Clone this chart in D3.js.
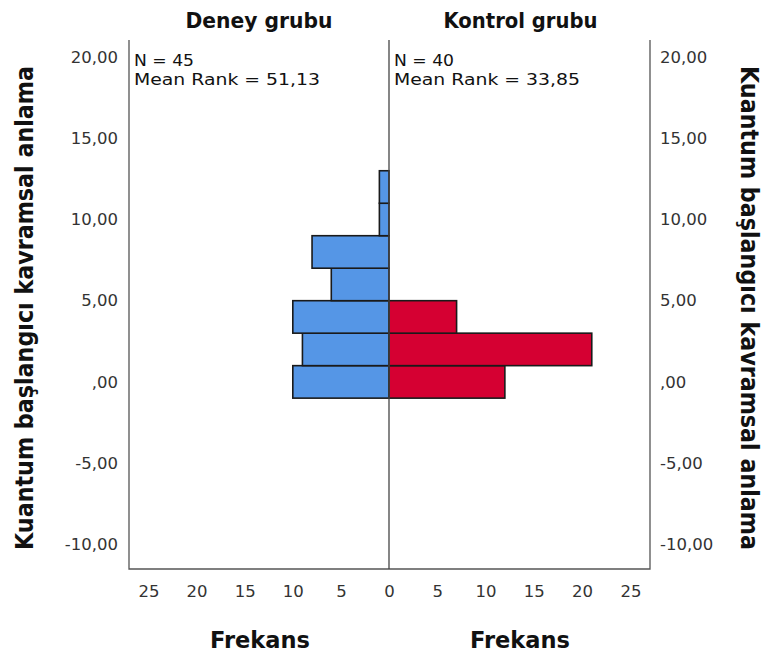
<!DOCTYPE html>
<html>
<head>
<meta charset="utf-8">
<script src="https://cdn.jsdelivr.net/npm/d3@7"></script>
<style>
  body { margin: 0; background: #fff; }
  svg { display: block; }
</style>
</head>
<body>
<svg id="chart" width="765" height="659"></svg>
<script>
// Bin midpoints (width 2) and frequencies for each group
const binCenters = [0, 2, 4, 6, 8, 10, 12];
const binWidth = 2;
const deneyCounts = [10, 9, 10, 6, 8, 1, 1];
const kontrolCounts = [12, 21, 7, 0, 0, 0, 0];

const groupNames = ["Deney grubu", "Kontrol grubu"];
const groupN = [45, 40];
const meanRanks = ["51,13", "33,85"];

const yTicks = [-10, -5, 0, 5, 10, 15, 20];
const xTicks = [0, 5, 10, 15, 20, 25];

const yTitle = "Kuantum başlangıcı kavramsal anlama";
const xTitle = "Frekans";

(function draw() {
  const svg = d3.select("#chart");

  const pLeft = 129, pMid = 389, pRight = 650, pTop = 40, pBottom = 569;

  const y = d3.scaleLinear().domain([-11.52, 21.05]).range([pBottom, pTop]);
  const xL = d3.scaleLinear().domain([0, 27.03]).range([pMid, pLeft]);
  const xR = d3.scaleLinear().domain([0, 27.03]).range([pMid, pRight]);

  // "5,00", ",00", "-5,00" with a plain hyphen for negatives
  const fmtY = v => {
    const s = Math.abs(v).toFixed(2).replace(".", ",").replace(/^0,/, ",");
    return (v < 0 ? "-" : "") + s;
  };

  const tickFont = "DejaVu Sans, sans-serif";
  const boldFont = "DejaVu Sans, sans-serif";

  // Bars
  const deney = binCenters.map((c, i) => ({ c, v: deneyCounts[i] })).filter(d => d.v > 0);
  const kontrol = binCenters.map((c, i) => ({ c, v: kontrolCounts[i] })).filter(d => d.v > 0);

  svg.append("g").selectAll("rect").data(deney).join("rect")
    .attr("x", d => xL(d.v))
    .attr("y", d => y(d.c + binWidth / 2))
    .attr("width", d => pMid - xL(d.v))
    .attr("height", d => y(d.c - binWidth / 2) - y(d.c + binWidth / 2))
    .attr("fill", "#5596e6")
    .attr("stroke", "#1a1a1a")
    .attr("stroke-width", 1.6);

  svg.append("g").selectAll("rect").data(kontrol).join("rect")
    .attr("x", pMid)
    .attr("y", d => y(d.c + binWidth / 2))
    .attr("width", d => xR(d.v) - pMid)
    .attr("height", d => y(d.c - binWidth / 2) - y(d.c + binWidth / 2))
    .attr("fill", "#d50032")
    .attr("stroke", "#1a1a1a")
    .attr("stroke-width", 1.6);

  // Frame: left, right, bottom edges and the centre line
  const frame = svg.append("g").attr("stroke", "#555").attr("stroke-width", 1.3).attr("fill", "none");
  frame.append("path").attr("d", `M${pLeft},${pTop}V${pBottom}H${pRight}V${pTop}`);
  frame.append("line").attr("x1", pMid).attr("x2", pMid).attr("y1", pTop).attr("y2", pBottom)
    .attr("stroke", "#444");

  // Y tick labels on both sides
  const yAxisL = d3.axisLeft(y).tickValues(yTicks).tickFormat(fmtY).tickSize(0).tickPadding(11);
  const yAxisR = d3.axisRight(y).tickValues(yTicks).tickFormat(fmtY).tickSize(0).tickPadding(10);
  const gyl = svg.append("g").attr("transform", `translate(${pLeft},0)`).call(yAxisL);
  const gyr = svg.append("g").attr("transform", `translate(${pRight},0)`).call(yAxisR);
  [gyl, gyr].forEach(g => {
    g.select(".domain").remove();
    g.selectAll("text").attr("font-family", tickFont).attr("font-size", 16.5).attr("fill", "#333");
  });

  // X tick labels, mirrored around zero
  const xAxisL = d3.axisBottom(xL).tickValues(xTicks.slice(1)).tickFormat(d3.format("d")).tickSize(0).tickPadding(16);
  const xAxisR = d3.axisBottom(xR).tickValues(xTicks).tickFormat(d3.format("d")).tickSize(0).tickPadding(16);
  const gxl = svg.append("g").attr("transform", `translate(0,${pBottom})`).call(xAxisL);
  const gxr = svg.append("g").attr("transform", `translate(0,${pBottom})`).call(xAxisR);
  [gxl, gxr].forEach(g => {
    g.select(".domain").remove();
    g.selectAll("text").attr("font-family", tickFont).attr("font-size", 16.5).attr("fill", "#333");
  });

  // Panel titles
  [[groupNames[0], 259, 147], [groupNames[1], 520.5, 154]].forEach(([t, cx, len]) => {
    svg.append("text").attr("x", cx).attr("y", 28).attr("text-anchor", "middle")
      .attr("font-family", boldFont).attr("font-weight", "bold").attr("font-size", 21)
      .attr("textLength", len).attr("lengthAdjust", "spacingAndGlyphs")
      .attr("fill", "#111").text(t);
  });

  // Group statistics
  [[pLeft, 0], [pMid, 1]].forEach(([x0, i]) => {
    const g = svg.append("g").attr("font-family", tickFont).attr("font-size", 16.3).attr("fill", "#111");
    g.append("text").attr("x", x0 + 5).attr("y", 65.5)
      .attr("textLength", 60).attr("lengthAdjust", "spacingAndGlyphs")
      .text(`N = ${groupN[i]}`);
    g.append("text").attr("x", x0 + 5).attr("y", 85)
      .attr("textLength", 186).attr("lengthAdjust", "spacingAndGlyphs")
      .text(`Mean Rank = ${meanRanks[i]}`);
  });

  // Axis titles
  [260, 520].forEach(cx => {
    svg.append("text").attr("x", cx).attr("y", 648).attr("text-anchor", "middle")
      .attr("font-family", boldFont).attr("font-weight", "bold").attr("font-size", 23)
      .attr("textLength", 100).attr("lengthAdjust", "spacingAndGlyphs")
      .attr("fill", "#111").text(xTitle);
  });

  const yMid = 308;
  svg.append("text").attr("transform", `translate(33,${yMid}) rotate(-90)`).attr("text-anchor", "middle")
    .attr("font-family", boldFont).attr("font-weight", "bold").attr("font-size", 25)
    .attr("textLength", 484).attr("lengthAdjust", "spacingAndGlyphs")
    .attr("fill", "#111").text(yTitle);
  svg.append("text").attr("transform", `translate(741,${yMid}) rotate(90)`).attr("text-anchor", "middle")
    .attr("font-family", boldFont).attr("font-weight", "bold").attr("font-size", 24.5)
    .attr("textLength", 484).attr("lengthAdjust", "spacingAndGlyphs")
    .attr("fill", "#111").text(yTitle);
})();
</script>
</body>
</html>
